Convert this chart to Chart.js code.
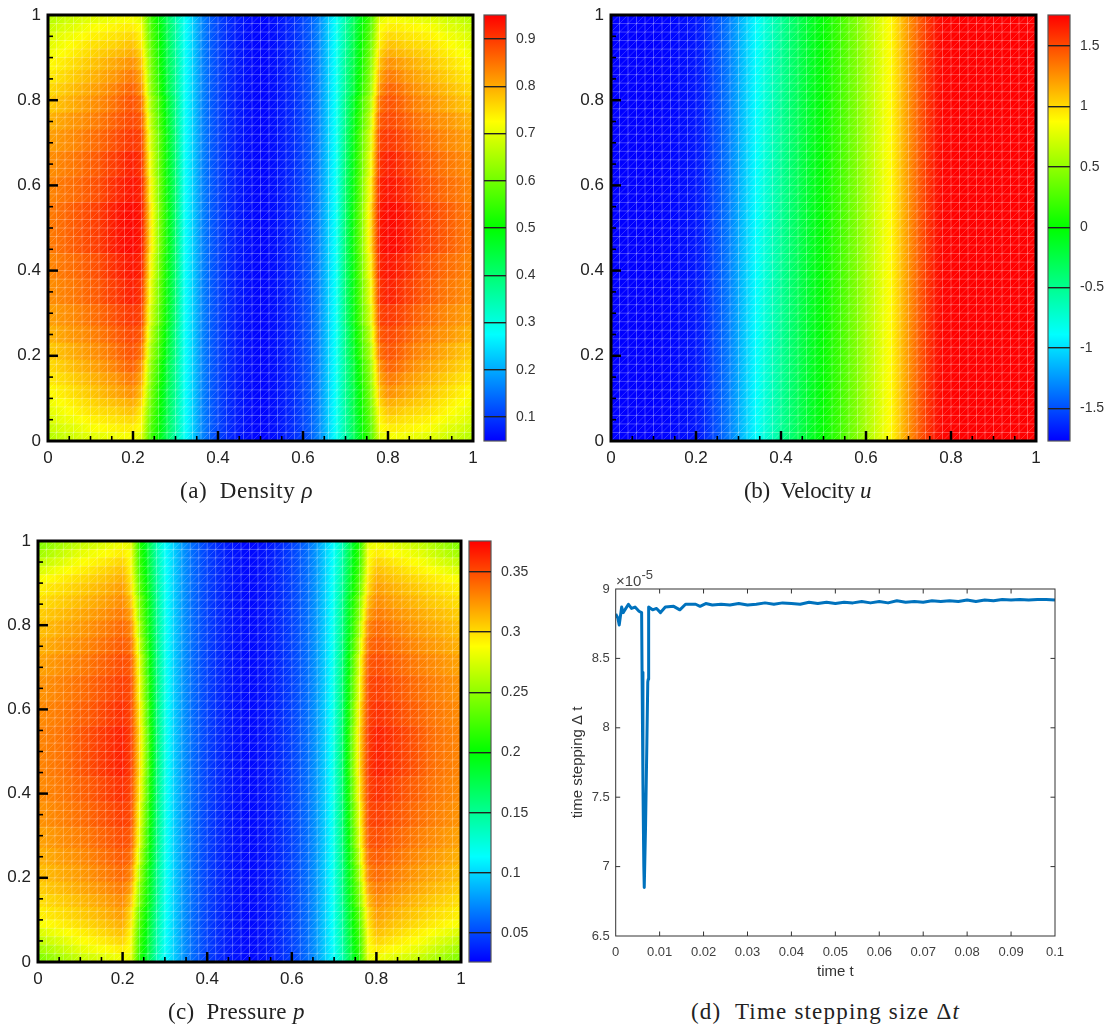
<!DOCTYPE html>
<html lang="en">

<head>
    <meta charset="UTF-8">
    <title>Density, velocity, pressure and time step</title>
    <style>
        body { margin: 0; background: #fff; overflow: hidden; }
        canvas { position: absolute; }
        .cap { position: absolute; font: 23px "Liberation Serif", serif; color: #222; white-space: pre; }
        .exp { position: absolute; left: 616px; top: 572px; font: 15px "Liberation Sans", sans-serif; color: #444; }
        .exp sup { font-size: 13px; position: relative; top: -1px; vertical-align: super; line-height: 0; }
    </style>
</head>

<body>
    <canvas id="rho" width="480" height="480" style="left:0;top:0"></canvas>
    <canvas id="rho-bar" width="70" height="480" style="left:480px;top:0"></canvas>
    <canvas id="vel" width="480" height="480" style="left:563px;top:0"></canvas>
    <canvas id="vel-bar" width="60" height="480" style="left:1044px;top:0"></canvas>
    <canvas id="pres" width="468" height="475" style="left:0;top:526px"></canvas>
    <canvas id="pres-bar" width="70" height="475" style="left:465px;top:526px"></canvas>
    <canvas id="dt" width="510" height="406" style="left:560px;top:575px"></canvas>
    <div class="exp">×10<sup>-5</sup></div>
    <div class="cap" style="left:180px;top:478px;letter-spacing:.55px">(a)  Density <i>ρ</i></div>
    <div class="cap" style="left:744px;top:478px;letter-spacing:-.3px">(b)  Velocity <i>u</i></div>
    <div class="cap" style="left:168px;top:999px;letter-spacing:.3px">(c)  Pressure <i>p</i></div>
    <div class="cap" style="left:691px;top:999px;letter-spacing:1.2px">(d)  Time stepping size Δ<i>t</i></div>

    <script src="https://cdn.jsdelivr.net/npm/chart.js"></script>

    <script>
        // mesh nodes along x, one value per node in every row below
        const meshX = [0, .02, .04, .06, .08, .1, .12, .14, .16, .18, .2, .22, .24, .26, .28, .3, .32, .34, .36, .38, .4, .42, .44, .46, .48, .5,
            .52, .54, .56, .58, .6, .62, .64, .66, .68, .7, .72, .74, .76, .78, .8, .82, .84, .86, .88, .9, .92, .94, .96, .98, 1];
        const meshStep = 0.02;

        // horizontal bands of the heat maps and which row each one shows
        const bandEdges = [0, .02, .04, .06, .08, .1, .13, .16, .19, .23, .27, .32, .38, .44, .56, .62, .68, .73, .77, .81, .84, .87, .9, .92, .94, .96, .98, 1];
        const bandRow = [0, 1, 2, 3, 4, 5, 6, 7, 8, 9, 10, 11, 12, 13, 12, 11, 10, 9, 8, 7, 6, 5, 4, 3, 2, 1, 0];

        // the fields mirror about x = 0.5, so each row lists x = 0 .. 0.3 and shares its middle part
        const row = (left, mid) => [...left, ...mid, ...left.slice().reverse()];

        // density, rows read at y = .01 .03 .05 .07 .09 .115 .145 .175 .21 .25 .295 .35 .41 .50
        const rhoMid = [.29, .235, .175, .135, .11, .09, .075, .065, .055, .052, .055, .065, .075, .09, .11, .135, .175, .235, .29];
        const rhoRows = [
            row([.66, .67, .68, .685, .695, .70, .705, .71, .715, .72, .72, .70, .57, .50, .42, .35], rhoMid),
            row([.675, .685, .695, .70, .71, .72, .725, .73, .735, .74, .74, .72, .58, .51, .43, .36], rhoMid),
            row([.69, .70, .71, .715, .725, .735, .74, .745, .75, .755, .76, .73, .59, .515, .43, .36], rhoMid),
            row([.70, .71, .72, .73, .74, .75, .755, .76, .765, .775, .78, .74, .60, .52, .44, .36], rhoMid),
            row([.71, .72, .73, .74, .75, .76, .77, .775, .785, .79, .80, .76, .61, .525, .44, .365], rhoMid),
            row([.725, .735, .745, .755, .765, .775, .785, .795, .805, .815, .825, .78, .62, .53, .44, .37], rhoMid),
            row([.74, .75, .76, .77, .78, .79, .80, .81, .82, .835, .845, .80, .63, .54, .45, .37], rhoMid),
            row([.755, .765, .775, .785, .795, .805, .815, .825, .84, .855, .865, .82, .64, .55, .45, .37], rhoMid),
            row([.77, .78, .79, .80, .81, .82, .83, .84, .855, .87, .88, .85, .66, .57, .47, .38], rhoMid),
            row([.79, .80, .81, .82, .825, .835, .845, .855, .87, .88, .89, .87, .68, .58, .48, .38], rhoMid),
            row([.81, .815, .825, .83, .84, .85, .86, .87, .885, .895, .905, .89, .70, .60, .49, .39], rhoMid),
            row([.825, .83, .84, .845, .855, .865, .875, .89, .90, .915, .925, .905, .72, .61, .495, .395], rhoMid),
            row([.83, .84, .85, .855, .865, .875, .885, .90, .915, .925, .935, .92, .74, .62, .50, .40], rhoMid),
            row([.84, .85, .86, .87, .88, .89, .90, .915, .93, .94, .945, .93, .76, .63, .51, .40], rhoMid)
        ];
        const rhoRange = [0.049, 0.951];
        const rhoStep = 0.1;

        // pressure, same rows
        const pMid = [.098, .08, .066, .056, .048, .042, .037, .033, .03, .028, .03, .033, .037, .042, .048, .056, .066, .08, .098];
        const pRows = [
            row([.245, .25, .255, .26, .265, .27, .273, .276, .279, .282, .285, .28, .215, .18, .14, .115], pMid),
            row([.255, .26, .265, .27, .275, .28, .283, .286, .288, .292, .295, .285, .22, .185, .143, .116], pMid),
            row([.265, .27, .274, .278, .283, .287, .29, .293, .296, .30, .303, .287, .222, .187, .145, .117], pMid),
            row([.275, .279, .283, .286, .29, .293, .296, .30, .303, .307, .31, .29, .225, .19, .146, .118], pMid),
            row([.285, .288, .291, .294, .297, .30, .303, .306, .309, .313, .316, .295, .23, .192, .148, .119], pMid),
            row([.292, .295, .298, .30, .303, .306, .309, .312, .315, .319, .322, .30, .235, .195, .15, .12], pMid),
            row([.298, .301, .304, .306, .309, .312, .315, .318, .321, .325, .328, .31, .245, .20, .153, .12], pMid),
            row([.304, .307, .31, .312, .315, .318, .321, .324, .327, .331, .334, .32, .25, .203, .155, .121], pMid),
            row([.31, .312, .315, .318, .32, .323, .326, .33, .333, .337, .34, .33, .26, .205, .156, .122], pMid),
            row([.315, .317, .32, .323, .325, .328, .331, .335, .338, .342, .345, .338, .27, .21, .158, .122], pMid),
            row([.32, .322, .325, .328, .33, .333, .336, .34, .343, .347, .35, .345, .28, .215, .16, .123], pMid),
            row([.325, .327, .33, .332, .335, .338, .341, .345, .348, .352, .355, .35, .285, .22, .162, .124], pMid),
            row([.328, .33, .333, .335, .338, .342, .345, .349, .353, .357, .36, .352, .295, .225, .163, .124], pMid),
            row([.33, .332, .335, .337, .341, .346, .35, .354, .358, .362, .365, .355, .30, .23, .165, .125], pMid)
        ];
        const pRange = [0.026, 0.3757];
        const pStep = 0.05;

        // velocity only changes along x
        const uRow = [-1.77, -1.77, -1.77, -1.77, -1.77, -1.77, -1.76, -1.75, -1.74, -1.72, -1.70, -1.63, -1.53, -1.43, -1.32, -1.18, -1.04, -.90, -.77, -.65, -.53, -.41, -.30, -.19, -.09, 0,
            .11, .22, .34, .45, .57, .68, .80, .90, 1.07, 1.24, 1.40, 1.54, 1.66, 1.74, 1.75, 1.757, 1.757, 1.757, 1.757, 1.757, 1.757, 1.757, 1.757, 1.757, 1.757];
        const uRange = [-1.77, 1.757];
        const uStep = 0.5;

        // time step history, dtValues in units of 1e-5
        const dtTimes = [0, .0005, .0008, .00136, .0017, .0029, .0036, .0044, .0053, .0059, .006, .0062, .0064, .0065, .0068, .0071, .0073, .0074, .0075,
            .0084, .0093, .0102, .0113, .0132, .0146, .0159, .0182, .0192, .0205, .022, .024, .026, .028, .03, .032, .034, .036, .038, .04,
            .042, .044, .046, .048, .05, .052, .054, .056, .058, .06, .062, .064, .066, .068, .07, .072, .074, .076, .078, .08,
            .082, .084, .086, .088, .09, .092, .094, .096, .098, .1];
        const dtValues = [8.82, 8.79, 8.74, 8.87, 8.83, 8.89, 8.86, 8.87, 8.84, 8.83, 8.4, 7.6, 7.0, 6.85, 7.3, 7.9, 8.33, 8.35, 8.87,
            8.85, 8.86, 8.83, 8.87, 8.875, 8.85, 8.89, 8.89, 8.875, 8.895, 8.885, 8.89, 8.885, 8.895, 8.885, 8.89, 8.90, 8.89, 8.90, 8.895,
            8.89, 8.905, 8.895, 8.905, 8.895, 8.905, 8.90, 8.91, 8.90, 8.91, 8.90, 8.915, 8.905, 8.91, 8.905, 8.915, 8.91, 8.915, 8.91, 8.92,
            8.91, 8.92, 8.915, 8.925, 8.92, 8.925, 8.92, 8.925, 8.925, 8.92];

        const rainbow = [[0, 0, 255], [0, 255, 255], [0, 255, 0], [255, 255, 0], [255, 0, 0]];

        function color(v, range) {
            const t = Math.min(Math.max((v - range[0]) / (range[1] - range[0]), 0), 1) * 4;
            const i = Math.min(Math.floor(t), 3);
            const c = rainbow[i].map((a, k) => Math.round(a + (rainbow[i + 1][k] - a) * (t - i)));
            return `rgb(${c[0]},${c[1]},${c[2]})`;
        }

        const tickText = v => String(+v.toFixed(2));

        // fixed axis size, and no room reserved for half of the end labels
        function fixSize(s, size) {
            if (s.isHorizontal()) s.height = size; else s.width = size;
            s.paddingLeft = s.paddingRight = s.paddingTop = s.paddingBottom = 0;
        }

        // mesh lines, frame and inward ticks, all placed through the scales
        function framePlugin(o) {
            return {
                id: 'frame',
                afterDatasetsDraw(chart) {
                    const { ctx, chartArea: a, scales: { x, y } } = chart;
                    ctx.save();
                    if (o.mesh) {
                        ctx.save();
                        ctx.beginPath();
                        ctx.rect(a.left, a.top, a.width, a.height);
                        ctx.clip();
                        ctx.strokeStyle = 'rgba(255,255,255,0.27)';
                        ctx.lineWidth = 1;
                        ctx.beginPath();
                        for (let i = 0; i <= 50; i++) {
                            const px = x.getPixelForValue(i * meshStep), py = y.getPixelForValue(i * meshStep);
                            ctx.moveTo(px, a.top); ctx.lineTo(px, a.bottom);
                            ctx.moveTo(a.left, py); ctx.lineTo(a.right, py);
                        }
                        ctx.stroke();
                        ctx.strokeStyle = 'rgba(255,255,255,0.2)';
                        ctx.beginPath();
                        for (let i = -50; i <= 50; i++) {
                            const s = i * meshStep;
                            const x0 = Math.max(0, s), x1 = Math.min(1, 1 + s);
                            ctx.moveTo(x.getPixelForValue(x0), y.getPixelForValue(x0 - s));
                            ctx.lineTo(x.getPixelForValue(x1), y.getPixelForValue(x1 - s));
                        }
                        ctx.stroke();
                        ctx.restore();
                    }
                    ctx.strokeStyle = o.color;
                    (o.xTicks || []).forEach(t => drawTick(ctx, o, x.getPixelForValue(t[0]), a, true, t[1]));
                    (o.yTicks || []).forEach(t => drawTick(ctx, o, y.getPixelForValue(t[0]), a, false, t[1]));
                    ctx.lineWidth = o.frameWidth;
                    ctx.strokeRect(a.left, a.top, a.width, a.height);
                    ctx.restore();
                }
            };
        }

        function drawTick(ctx, o, p, a, vertical, major) {
            const len = major ? o.majorLen : o.minorLen;
            ctx.lineWidth = major ? o.majorWidth : o.minorWidth;
            ctx.beginPath();
            if (vertical) {
                ctx.moveTo(p, a.bottom); ctx.lineTo(p, a.bottom - len);
                if (o.mirror) { ctx.moveTo(p, a.top); ctx.lineTo(p, a.top + len); }
            } else {
                ctx.moveTo(a.left, p); ctx.lineTo(a.left + len, p);
                if (o.mirror) { ctx.moveTo(a.right, p); ctx.lineTo(a.right - len, p); }
            }
            ctx.stroke();
        }

        const unitTicks = [[.05], [.1], [.15], [.2, 1], [.25], [.3], [.35], [.4, 1], [.45], [.5], [.55], [.6, 1], [.65], [.7], [.75], [.8, 1], [.85], [.9], [.95]];

        function heatChart(id, rows, pick, edges, range, yWidth) {
            const datasets = pick.map((rowIndex, b) => ({
                data: meshX.slice(1).map((xr, i) => ({ x: (meshX[i] + xr) / 2, y: [edges[b], edges[b + 1]] })),
                grouped: false,
                barPercentage: 1,
                categoryPercentage: 1,
                borderWidth: 0,
                backgroundColor(c) {
                    if (c.type !== 'data') return 'transparent';
                    const vals = rows[rowIndex];
                    const i = c.dataIndex;
                    const sx = c.chart.scales.x;
                    const x0 = sx.getPixelForValue(meshX[i]), x1 = sx.getPixelForValue(meshX[i + 1]);
                    // first pass runs before the scales have a size
                    if (!isFinite(x0) || !isFinite(x1)) return 'transparent';
                    const g = c.chart.ctx.createLinearGradient(x0, 0, x1, 0);
                    for (let s = 0; s <= 4; s++)
                        g.addColorStop(s / 4, color(vals[i] + (vals[i + 1] - vals[i]) * s / 4, range));
                    return g;
                }
            }));
            const axisFont = { family: 'Liberation Sans', size: 17 };
            return new Chart(document.getElementById(id), {
                type: 'bar',
                data: { datasets },
                options: {
                    responsive: false,
                    animation: false,
                    events: [],
                    layout: { autoPadding: false, padding: { top: 15, right: 7, left: 0, bottom: 0 } },
                    plugins: { legend: { display: false }, tooltip: { enabled: false } },
                    scales: {
                        x: {
                            type: 'linear', offset: false, min: 0, max: 1,
                            grid: { display: false, drawTicks: false }, border: { display: false },
                            ticks: { stepSize: 0.2, color: '#222', font: axisFont, padding: 7, maxRotation: 0, callback: tickText },
                            afterFit(s) { fixSize(s, 39); }
                        },
                        y: {
                            min: 0, max: 1,
                            grid: { display: false, drawTicks: false }, border: { display: false },
                            ticks: { stepSize: 0.2, color: '#222', font: axisFont, padding: 7, callback: tickText },
                            afterFit(s) { fixSize(s, yWidth); }
                        }
                    }
                },
                plugins: [framePlugin({
                    mesh: true, color: '#000', frameWidth: 3, xTicks: unitTicks, yTicks: unitTicks,
                    majorLen: 10, minorLen: 5, majorWidth: 2.5, minorWidth: 1.6
                })]
            });
        }

        function colorBar(id, range, step) {
            return new Chart(document.getElementById(id), {
                type: 'bar',
                data: {
                    labels: [''],
                    datasets: [{
                        data: [[range[0], range[1]]],
                        barPercentage: 1,
                        categoryPercentage: 1,
                        borderWidth: 0,
                        backgroundColor(c) {
                            const a = c.chart.chartArea;
                            if (!a) return 'transparent';
                            const g = c.chart.ctx.createLinearGradient(0, a.bottom, 0, a.top);
                            rainbow.forEach((_, i) => g.addColorStop(i / 4, color(range[0] + (range[1] - range[0]) * i / 4, range)));
                            return g;
                        }
                    }]
                },
                options: {
                    responsive: false,
                    animation: false,
                    events: [],
                    layout: { autoPadding: false, padding: { top: 15, left: 4, right: 0, bottom: 39 } },
                    plugins: { legend: { display: false }, tooltip: { enabled: false } },
                    scales: {
                        x: { display: false },
                        y: {
                            position: 'right', min: range[0], max: range[1],
                            border: { display: false },
                            grid: { color: '#222', lineWidth: 1.4, drawTicks: false, z: 1 },
                            ticks: { stepSize: step, includeBounds: false, color: '#333', font: { family: 'Liberation Sans', size: 14 }, padding: 10, callback: tickText },
                            afterFit(s) { fixSize(s, document.getElementById(id).width - 26); }
                        }
                    }
                },
                plugins: [framePlugin({ color: '#555', frameWidth: 1.2 })]
            });
        }

        heatChart('rho', rhoRows, bandRow, bandEdges, rhoRange, 48);
        colorBar('rho-bar', rhoRange, rhoStep);
        heatChart('vel', [uRow], [0], [0, 1], uRange, 48);
        colorBar('vel-bar', uRange, uStep);
        heatChart('pres', pRows, bandRow, bandEdges, pRange, 38);
        colorBar('pres-bar', pRange, pStep);

        const axisFontD = { family: 'Liberation Sans', size: 13 };
        new Chart(document.getElementById('dt'), {
            type: 'scatter',
            data: {
                datasets: [{
                    data: dtTimes.map((t, i) => ({ x: t, y: dtValues[i] })),
                    showLine: true,
                    borderColor: '#0072BD',
                    borderWidth: 3,
                    borderJoinStyle: 'round',
                    pointRadius: 0,
                    tension: 0
                }]
            },
            options: {
                responsive: false,
                animation: false,
                events: [],
                layout: { autoPadding: false, padding: { top: 14, right: 15, left: 0, bottom: 0 } },
                plugins: { legend: { display: false }, tooltip: { enabled: false } },
                scales: {
                    x: {
                        min: 0, max: 0.1,
                        grid: { display: false, drawTicks: false }, border: { display: false },
                        ticks: { stepSize: 0.01, color: '#404040', font: axisFontD, padding: 9, maxRotation: 0, callback: tickText },
                        title: { display: true, text: 'time t', color: '#333', font: { family: 'Liberation Sans', size: 15 }, padding: 0 },
                        afterFit(s) { fixSize(s, 45); }
                    },
                    y: {
                        min: 6.5, max: 9,
                        grid: { display: false, drawTicks: false }, border: { display: false },
                        ticks: { stepSize: 0.5, color: '#404040', font: axisFontD, padding: 6, callback: tickText },
                        title: { display: true, text: 'time stepping Δ t', color: '#333', font: { family: 'Liberation Sans', size: 15 }, padding: { top: 9, bottom: 0 } },
                        afterFit(s) { fixSize(s, 55.7); }
                    }
                }
            },
            plugins: [framePlugin({
                color: '#333', frameWidth: 1, mirror: true, majorLen: 4.5, minorLen: 0, majorWidth: 1, minorWidth: 1,
                xTicks: [[.01, 1], [.02, 1], [.03, 1], [.04, 1], [.05, 1], [.06, 1], [.07, 1], [.08, 1], [.09, 1]],
                yTicks: [[7, 1], [7.5, 1], [8, 1], [8.5, 1]]
            })]
        });
    </script>
</body>

</html>
